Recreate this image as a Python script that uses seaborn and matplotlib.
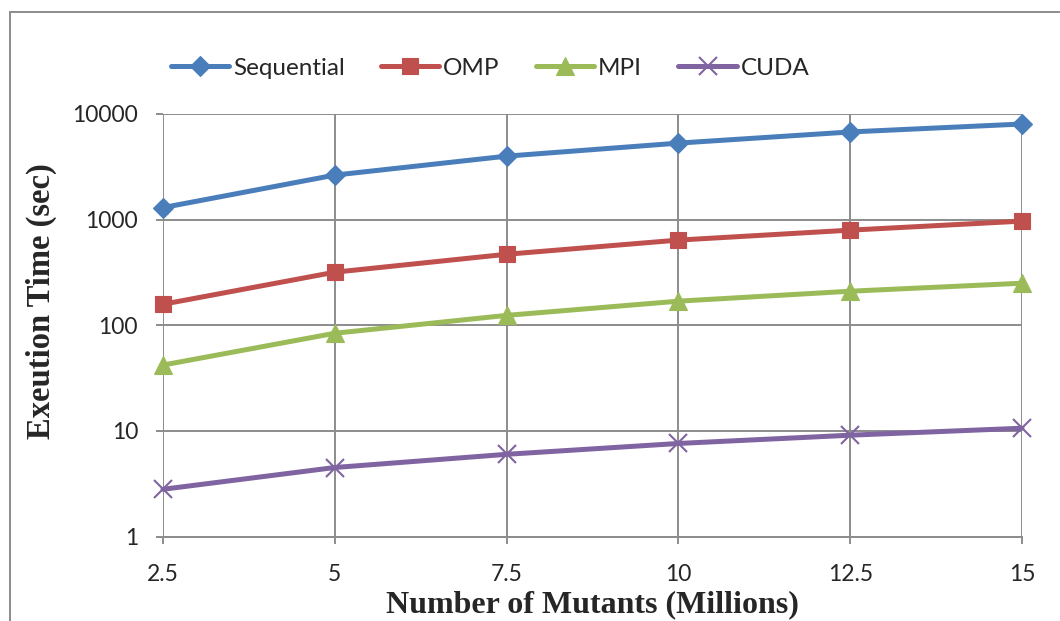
import numpy as np
import pandas as pd
import matplotlib.pyplot as plt
import matplotlib.lines as mlines
import seaborn as sns

#%% data
mutants    = [2.5, 5, 7.5, 10, 12.5, 15]
sequential = [1300, 2640, 3990, 5300, 6760, 8040]
omp        = [158, 318, 470, 640, 795, 968]
mpi        = [42, 84, 124, 169, 210, 250]
cuda       = [2.8, 4.5, 6.0, 7.6, 9.1, 10.6]

methods = ['Sequential', 'OMP', 'MPI', 'CUDA']
colors  = ['#4A7EBB', '#C0504D', '#9BBB59', '#8064A2']
markers = ['D', 's', '^', 'x']
msizes  = [10.5, 12, 13, 13]

df = pd.DataFrame({'Sequential': sequential, 'OMP': omp, 'MPI': mpi, 'CUDA': cuda},
                  index=mutants)
long = df.reset_index(names='mutants').melt(id_vars='mutants', var_name='method', value_name='time')

#%% figure
sns.set_style('white')
plt.rcParams['font.family'] = ['Lato', 'DejaVu Sans']
grid_c = '#8c8c8c'

fig = plt.figure(figsize=(10.6, 6.21), dpi=100)
ax = fig.add_axes([163/1060, 1-536.5/621, 859/1060, 422.5/621])

for m, c, mk, ms in zip(methods, colors, markers, msizes):
    sub = long[long.method == m]
    sns.lineplot(data=sub, x='mutants', y='time', ax=ax, color=c, lw=3.6,
                 marker=mk, markersize=ms, markeredgecolor=c, clip_on=False, zorder=3,
                 markeredgewidth=1.5 if mk == 'x' else 0.8, label=m, legend=False)

ax.set_yscale('log')
ax.set_ylim(1, 10000)
ax.set_xlim(2.5, 15)
ax.set_xticks(mutants)
ax.set_xticklabels(['2.5', '5', '7.5', '10', '12.5', '15'])
ax.set_yticks([1, 10, 100, 1000, 10000])
ax.set_yticklabels(['1', '10', '100', '1000', '10000'])
ax.yaxis.set_minor_locator(plt.NullLocator())
ax.grid(True, which='major', color=grid_c, lw=1.4)
ax.set_axisbelow(True)
for s in ['top', 'right', 'left']:
    ax.spines[s].set_visible(False)
ax.spines['bottom'].set_color(grid_c)
ax.spines['bottom'].set_linewidth(1.4)
ax.tick_params(axis='y', left=True, length=5, width=1.4, color=grid_c, pad=13, labelsize=16.5)
ax.tick_params(axis='x', bottom=True, length=5, width=1.4, color=grid_c, pad=15, labelsize=16.5)

ax.set_xlabel('Number of Mutants (Millions)', family='Liberation Serif', weight='bold', fontsize=23)
ax.set_ylabel('Exeution Time (sec)', family='Liberation Serif', weight='bold', fontsize=23.5)
ax.xaxis.set_label_coords(0.5, -0.128)
ax.yaxis.set_label_coords(-0.123, 0.557)

handles = [mlines.Line2D([], [], color=c, lw=3.6, marker=mk, markersize=ms, markeredgecolor=c,
                         markeredgewidth=1.5 if mk == 'x' else 0.8)
           for c, mk, ms in zip(colors, markers, msizes)]
fig.legend(handles, methods, loc='center', bbox_to_anchor=(490/1060, 1-68/621), ncol=4,
           frameon=False, fontsize=17.5, handlelength=2.4, handletextpad=0.15, columnspacing=1.5)

# chart border (right and bottom edges fall outside the picture)
fig.add_artist(mlines.Line2D([10/1060, 1], [1-12/621, 1-12/621], color=grid_c, lw=1.4,
                             transform=fig.transFigure))
fig.add_artist(mlines.Line2D([10/1060, 10/1060], [1-12/621, 0], color=grid_c, lw=1.4,
                             transform=fig.transFigure))

fig.savefig('out.png', dpi=100, facecolor='w')
